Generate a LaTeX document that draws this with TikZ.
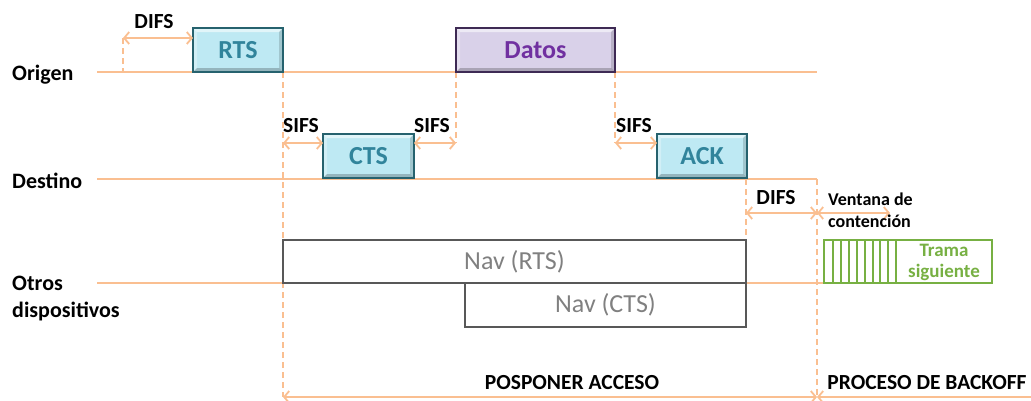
\documentclass[tikz,border=0pt]{standalone}
\usepackage{fontspec}
\setmainfont{Carlito}
\usetikzlibrary{arrows.meta}

\definecolor{lineorange}{RGB}{250,191,145}
\definecolor{ctlfill}{RGB}{190,233,243}
\definecolor{ctlborder}{RGB}{38,98,110}
\definecolor{ctltext}{RGB}{49,132,155}
\definecolor{datafill}{RGB}{217,209,233}
\definecolor{databorder}{RGB}{62,42,84}
\definecolor{datatext}{RGB}{112,48,160}
\definecolor{navborder}{RGB}{88,88,88}
\definecolor{navtext}{RGB}{128,128,128}
\definecolor{nextgreen}{RGB}{119,176,67}

\tikzset{
  timeline/.style={draw=lineorange, line width=1.8pt},
  guide/.style={draw=lineorange, line width=1.8pt, dash pattern=on 6pt off 4pt},
  span/.style={draw=lineorange, line width=1.8pt,
    {Straight Barb[length=5pt,width=12pt,line width=1.8pt]}-{Straight Barb[length=5pt,width=12pt,line width=1.8pt]}},
  halfspan/.style={draw=lineorange, line width=1.8pt,
    {Straight Barb[length=5pt,width=12pt,line width=1.8pt]}-},
  % raised look: light top/left edges, dark bottom/right edges
  bevel/.style={path picture={
    \coordinate (bnw) at (path picture bounding box.north west);
    \coordinate (bne) at (path picture bounding box.north east);
    \coordinate (bsw) at (path picture bounding box.south west);
    \coordinate (bse) at (path picture bounding box.south east);
    \fill[white, opacity=.55] (bnw) -- (bne) -- ([shift={(-4pt,-4pt)}]bne) -- ([shift={(4pt,-4pt)}]bnw) -- cycle;
    \fill[white, opacity=.30] (bnw) -- (bsw) -- ([shift={(4pt,4pt)}]bsw) -- ([shift={(4pt,-4pt)}]bnw) -- cycle;
    \fill[black, opacity=.22] (bsw) -- (bse) -- ([shift={(-4pt,4pt)}]bse) -- ([shift={(4pt,4pt)}]bsw) -- cycle;
    \fill[black, opacity=.15] (bne) -- (bse) -- ([shift={(-4pt,4pt)}]bse) -- ([shift={(-4pt,-4pt)}]bne) -- cycle;
  }},
  frame/.style={rectangle, inner sep=0pt, outer sep=0pt, line width=2.4pt, bevel,
    font=\bfseries\fontsize{26}{28}\selectfont},
  ctlframe/.style={frame, draw=ctlborder, fill=ctlfill, text=ctltext,
    minimum width=90pt, minimum height=44pt},
  dataframe/.style={frame, draw=databorder, fill=datafill, text=datatext,
    minimum width=159pt, minimum height=44pt},
  navframe/.style={rectangle, inner sep=0pt, draw=navborder, line width=2pt,
    text=navtext, font=\fontsize{26}{28}\selectfont},
  station/.style={anchor=west, inner sep=0pt, align=left,
    font=\bfseries\fontsize{22}{27}\selectfont},
  gap/.style={inner sep=0pt, font=\bfseries\fontsize{21.5}{24}\selectfont},
  phase/.style={inner sep=0pt, font=\bfseries\fontsize{21.5}{24}\selectfont}
}

\begin{document}
\begin{tikzpicture}[x=1pt, y=-1pt]
\useasboundingbox (0,0) rectangle (1031,400);

% station names
\node[station] (origen)  at (12,75)  {Origen};
\node[station] (destino) at (12,181) {Destino};
\node[station] (otros)   at (12,299) {Otros\\dispositivos};

% end points of the time axes and guides
\coordinate (o0) at (97,72);   \coordinate (o1) at (817,72);
\coordinate (d0) at (97,179);  \coordinate (d1) at (817,179);
\coordinate (x0) at (97,283);  \coordinate (x1) at (824,283);
\coordinate (difsA) at (123,38);
\coordinate (difsT) at (123,72);
\coordinate (navT) at (283,72);
\coordinate (navB) at (283,397);
\coordinate (sifsB) at (456,143);
\coordinate (sifsC) at (615,143);
\coordinate (ackT) at (746,179);
\coordinate (ackB) at (746,240);
\coordinate (bkT) at (817,179);
\coordinate (bkB) at (817,397);
\coordinate (winR) at (890,213);
\coordinate (bkR) at (1031,397);

% dashed guides
\draw[guide] (difsA) -- (difsT);
\draw[guide] (navT) -- (navB);
\draw[guide] (456,72) -- (sifsB);
\draw[guide] (615,72) -- (sifsC);
\draw[guide] (ackT) -- (ackB);
\draw[guide] (bkT) -- (bkB);

% time axes
\draw[timeline] (o0) -- (o1);
\draw[timeline] (d0) -- (d1);
\draw[timeline] (x0) -- (x1);

% frames
\node[ctlframe]  (rts)   at (238,50)    {RTS};
\node[dataframe] (datos) at (535.5,50)  {Datos};
\node[ctlframe, minimum width=91pt]  (cts) at (368.5,156) {CTS};
\node[ctlframe]  (ack)   at (702,156)   {ACK};

% NAV periods
\node[navframe, minimum width=463pt, minimum height=43pt] (navrts) at (514.5,261.5) {Nav (RTS)};
\node[navframe, minimum width=281pt, minimum height=44pt] (navcts) at (605.5,305) {Nav (CTS)};

% contention window and next frame
\node[rectangle, draw=nextgreen, line width=2pt, inner sep=0pt,
      minimum width=168pt, minimum height=43pt] (next) at (908,261.5) {};
\foreach \k in {0,...,8}
  \draw[nextgreen, line width=2pt] (833+7.9*\k,240) -- (833+7.9*\k,283);
\node[text=nextgreen, align=center, inner sep=0pt,
      font=\bfseries\fontsize{19}{21}\selectfont] (trama) at (944,262) {Trama\\siguiente};

% interframe spaces
\draw[span] (difsA) -- (rts.west |- difsA);
\node[gap] (difs1) at (154,22) {DIFS};
\draw[span] (283,143) -- (cts.west |- sifsB);
\node[gap] (sifs1) at (301,126) {SIFS};
\draw[span] (cts.east |- sifsB) -- (sifsB);
\node[gap] (sifs2) at (432,126) {SIFS};
\draw[span] (sifsC) -- (ack.west |- sifsC);
\node[gap] (sifs3) at (634,126) {SIFS};
\draw[span] (746,213) -- (817,213);
\node[gap] (difs2) at (776,198) {DIFS};
\draw[span] (817,213) -- (winR);
\node[anchor=north west, inner sep=0pt, align=left,
      font=\bfseries\fontsize{18}{22}\selectfont] (ventana) at (828,193) {Ventana de\\contención};

% phases
\draw[span] (navB) -- (bkB);
\node[phase] (posponer) at (572,383) {POSPONER ACCESO};
\draw[halfspan] (bkB) -- (bkR);
\node[phase] (backoff) at (927,383) {PROCESO DE BACKOFF};
\end{tikzpicture}
\end{document}
